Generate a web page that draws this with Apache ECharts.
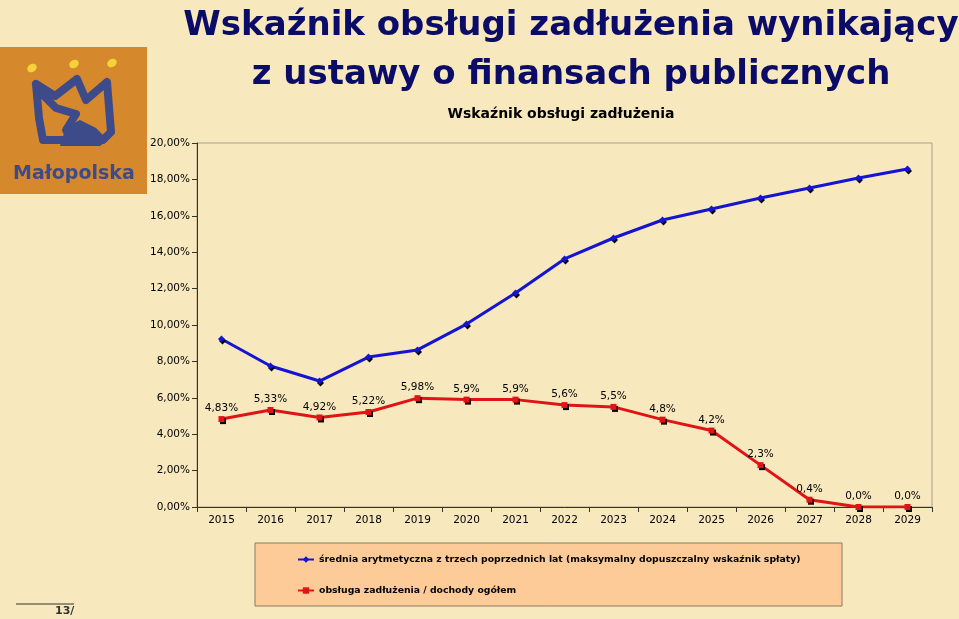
<!DOCTYPE html>
<html><head><meta charset="utf-8">
<script src="https://cdn.jsdelivr.net/npm/echarts@6/dist/echarts.min.js"></script>
<style>html,body{margin:0;padding:0;background:#F7E8BE;}#c{width:959px;height:619px;}</style>
</head><body><div id="c"></div>
<script>
const years = ['2015','2016','2017','2018','2019','2020','2021','2022','2023','2024','2025','2026','2027','2028','2029'];
const sredniaValues = [9.23, 7.75, 6.92, 8.24, 8.63, 10.05, 11.76, 13.63, 14.78, 15.77, 16.37, 16.98, 17.53, 18.08, 18.57];
const obslugaValues = [4.83, 5.33, 4.92, 5.22, 5.98, 5.9, 5.9, 5.6, 5.5, 4.8, 4.2, 2.3, 0.4, 0.0, 0.0];
const obslugaLabels = ['4,83%','5,33%','4,92%','5,22%','5,98%','5,9%','5,9%','5,6%','5,5%','4,8%','4,2%','2,3%','0,4%','0,0%','0,0%'];
const yTicks = {min: 0, max: 20, interval: 2};
const seriesNames = ['średnia arytmetyczna z trzech poprzednich lat (maksymalny dopuszczalny wskaźnik spłaty)', 'obsługa zadłużenia / dochody ogółem'];

const chart = echarts.init(document.getElementById('c'));
const F = 'DejaVu Sans, Verdana, sans-serif';
const logoBlue = '#3D4B8A';
chart.setOption({
  backgroundColor: '#F7E8BE',
  animation: false,
  textStyle: {fontFamily: F},
  title: [
    {text: 'Wskaźnik obsługi zadłużenia wynikający', left: 566, top: 4, textAlign: 'center',
     textStyle: {fontSize: 34, fontWeight: 'bold', color: '#0B0B68', fontFamily: F}},
    {text: 'z ustawy o finansach publicznych', left: 566, top: 53, textAlign: 'center',
     textStyle: {fontSize: 34, fontWeight: 'bold', color: '#0B0B68', fontFamily: F}},
    {text: 'Wskaźnik obsługi zadłużenia', left: 556, top: 102, textAlign: 'center',
     textStyle: {fontSize: 14, fontWeight: 'bold', color: '#000', fontFamily: F}}
  ],
  grid: {left: 197, right: 27, top: 143, bottom: 112, show: true, borderColor: '#A8A08A', borderWidth: 1, backgroundColor: 'transparent'},
  legend: {
    orient: 'vertical', left: 292, top: 550, itemGap: 22, itemWidth: 16, itemHeight: 8,
    data: seriesNames,
    textStyle: {fontSize: 9.3, fontWeight: 'bold', color: '#000', fontFamily: F}
  },
  xAxis: {
    type: 'category', data: years, boundaryGap: true,
    axisLine: {lineStyle: {color: '#333', width: 1}},
    axisTick: {show: true, length: 5, lineStyle: {color: '#333'}},
    axisLabel: {fontSize: 10.5, color: '#000', margin: 8, fontFamily: F}
  },
  yAxis: {
    type: 'value', min: yTicks.min, max: yTicks.max, interval: yTicks.interval,
    axisLine: {show: true, lineStyle: {color: '#333', width: 1}},
    axisTick: {show: true, length: 5, lineStyle: {color: '#333'}},
    splitLine: {show: false},
    axisLabel: {fontSize: 10.5, color: '#000', margin: 7, fontFamily: F,
      formatter: v => v.toFixed(2).replace('.', ',') + '%'}
  },
  series: [
    {name: seriesNames[0], type: 'line', data: sredniaValues,
     symbol: 'diamond', symbolSize: 7,
     lineStyle: {color: '#1414D2', width: 3},
     itemStyle: {color: '#1414D2', shadowColor: '#000', shadowOffsetX: 1, shadowOffsetY: 2, shadowBlur: 0}},
    {name: seriesNames[1], type: 'line', data: obslugaValues,
     symbol: 'rect', symbolSize: 6,
     lineStyle: {color: '#E01414', width: 3},
     itemStyle: {color: '#E01414', shadowColor: '#000', shadowOffsetX: 1.5, shadowOffsetY: 2, shadowBlur: 0},
     label: {show: true, position: 'top', distance: 2, fontSize: 10.5, color: '#000', fontFamily: F,
       formatter: p => obslugaLabels[p.dataIndex]}}
  ],
  graphic: [
    {type: 'rect', shape: {x: 255, y: 543, width: 587, height: 63}, style: {fill: '#FDCB98', stroke: '#8A7A66', lineWidth: 1}, z: -1},
    {type: 'rect', shape: {x: 0, y: 47, width: 147, height: 147}, style: {fill: '#D6892C'}},
    {type: 'ellipse', shape: {cx: 32, cy: 68, rx: 5, ry: 4}, style: {fill: '#F3D23A'}, rotation: 0.5, originX: 32, originY: 68},
    {type: 'ellipse', shape: {cx: 74, cy: 64, rx: 5, ry: 4}, style: {fill: '#F3D23A'}, rotation: 0.5, originX: 74, originY: 64},
    {type: 'ellipse', shape: {cx: 112, cy: 63, rx: 5, ry: 4}, style: {fill: '#F3D23A'}, rotation: 0.5, originX: 112, originY: 63},
    {type: 'polyline', shape: {points: [[36,84],[55,96],[77,79],[86,100],[107,82],[111,132],[103,140],[43,140],[39,118],[36,84]]},
     style: {stroke: logoBlue, lineWidth: 8, fill: null, lineJoin: 'round', lineCap: 'round'}},
    {type: 'polyline', shape: {points: [[38,90],[56,108],[76,114],[66,130],[70,138]]},
     style: {stroke: logoBlue, lineWidth: 8, fill: null, lineJoin: 'round', lineCap: 'round'}},
    {type: 'polygon', shape: {points: [[62,138],[68,126],[80,120],[96,128],[108,140],[100,146],[60,146]]},
     style: {fill: logoBlue}},
    {type: 'text', left: 13, top: 165, style: {text: 'Małopolska', fontSize: 19, fontWeight: 'bold', fill: logoBlue, fontFamily: F}},
    {type: 'line', shape: {x1: 16, y1: 604, x2: 74, y2: 604}, style: {stroke: '#333', lineWidth: 1}},
    {type: 'text', left: 55, top: 606, style: {text: '13/', fontSize: 11, fontWeight: 'bold', fill: '#333', fontFamily: F}}
  ]
});
</script></body></html>
